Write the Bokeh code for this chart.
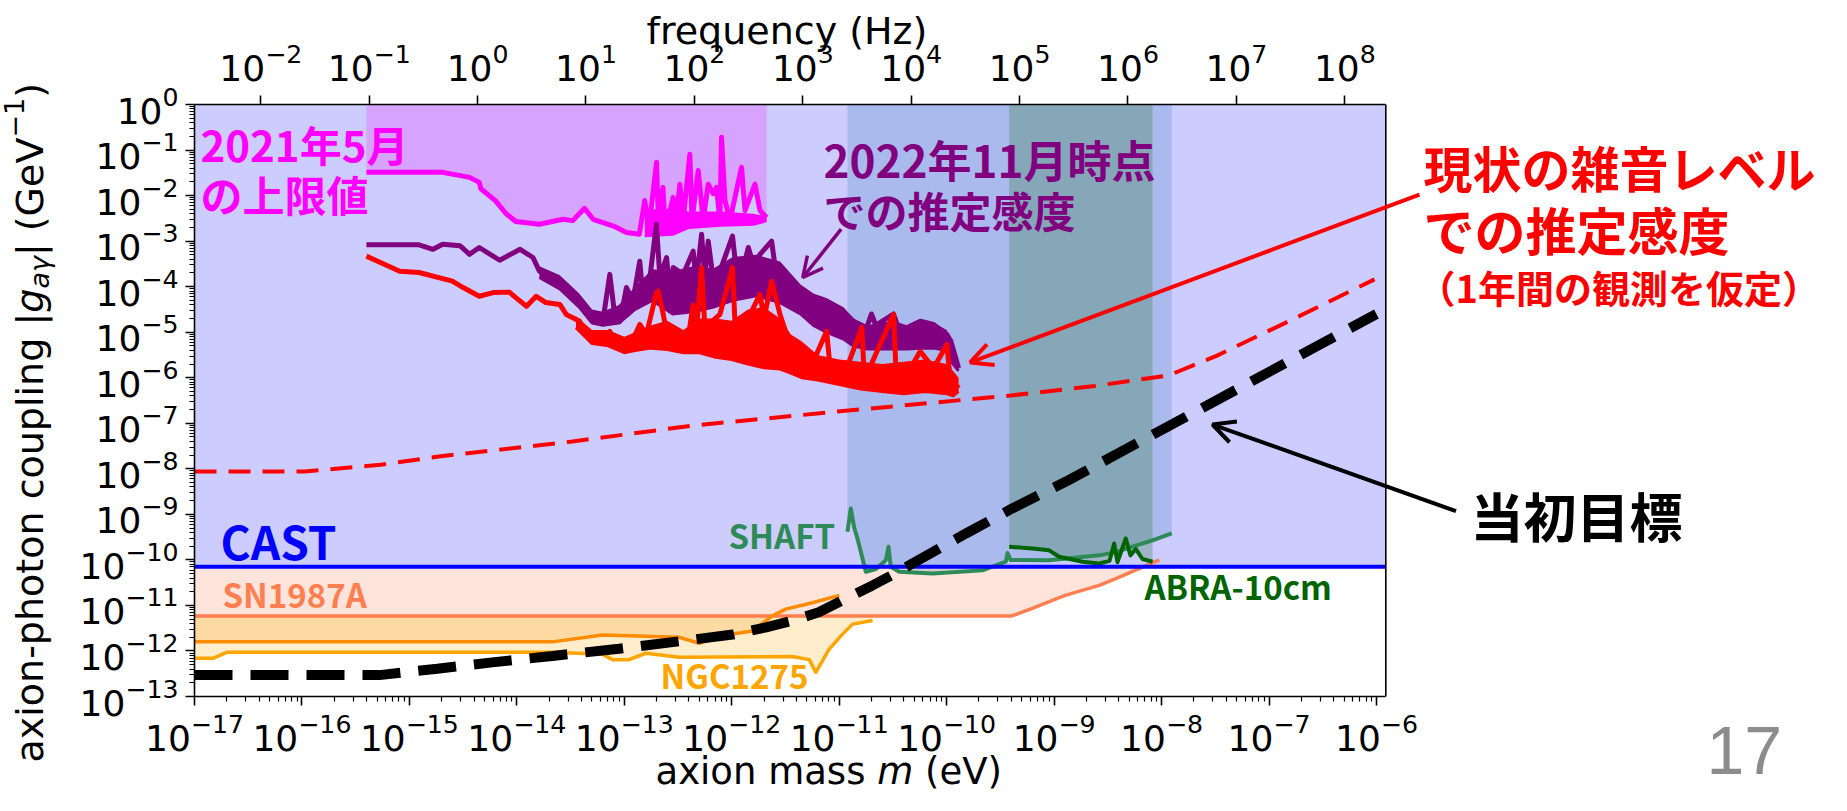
import numpy as np
from bokeh.plotting import figure
from bokeh.models import (Range1d, LogScale, LogAxis, FixedTicker, LogTickFormatter,
                          Label, Arrow, OpenHead)
from bokeh.embed import file_html
from bokeh.resources import INLINE

# ---------------- data (log10 of axion mass [eV] and |g| [GeV^-1]) ----------------
M_TICK_EXP = list(range(-17, -5))      # bottom axis decades
G_TICK_EXP = list(range(-13, 1))       # left axis decades
F_TICK_EXP = list(range(-2, 9))        # top axis decades (Hz)

CAST_LOGG = -10.15

SN1987A_LOGM = [-17.0, -9.395, -9.209, -8.898, -8.58, -8.426, -8.21, -8.02]
SN1987A_LOGG = [-11.23, -11.23, -11.07, -10.78, -10.56, -10.41, -10.19, -10.0]

NGC_UP_LOGM = [-17.0, -13.668, -13.203, -12.489, -12.303, -12.055, -11.807, -11.621, -11.497, -11.249, -11.0]
NGC_UP_LOGG = [-11.80, -11.80, -11.65, -11.70, -11.83, -11.65, -11.56, -11.23, -11.08, -10.94, -10.78]

NGC_LO_LOGM = [-17.0, -16.83, -16.70, -13.668, -13.203, -13.110, -12.955, -12.800, -12.489, -11.435,
               -11.279, -11.218, -11.093, -10.969, -10.876, -10.690]
NGC_LO_LOGG = [-12.16, -12.16, -12.03, -12.03, -12.07, -12.19, -12.19, -12.05, -12.14, -12.12,
               -12.19, -12.47, -11.96, -11.63, -11.41, -11.33]

SHAFT_LOGM = [-10.923, -10.892, -10.86, -10.83, -10.783, -10.752, -10.659, -10.566, -10.541, -10.52, -10.442,
              -10.132, -9.667, -9.449, -9.434, -9.406, -9.046, -8.58, -8.426, -8.27, -8.084, -7.905]
SHAFT_LOGG = [-9.38, -8.87, -9.30, -9.53, -9.97, -10.26, -10.20, -10.01, -9.71, -10.15, -10.26,
              -10.30, -10.23, -10.04, -9.85, -10.00, -10.01, -9.90, -9.83, -9.71, -9.57, -9.42]

ABRA_LOGM = [-9.418, -9.201, -9.046, -8.953, -8.736, -8.58, -8.484, -8.441, -8.41, -8.333, -8.29, -8.24, -8.178, -8.084]
ABRA_LOGG = [-9.71, -9.75, -9.79, -9.93, -10.04, -10.08, -10.02, -9.64, -10.05, -9.53, -9.90, -9.76, -9.98, -10.04]

# DANCE upper limit (May 2021)
D21_LOGM = [-15.40, -14.69, -14.44, -14.35, -14.335, -14.20, -14.10, -14.01, -13.79, -13.57, -13.48, -13.37,
            -13.29, -13.10, -12.98, -12.86, -12.81, -12.77, -12.70, -12.685, -12.64, -12.62, -12.545, -12.52,
            -12.483, -12.452, -12.39, -12.37, -12.312, -12.266, -12.219, -12.172, -12.142, -12.11, -12.095,
            -12.063, -12.017, -11.909, -11.877, -11.784, -11.737, -11.676]
D21_LOGG = [-1.49, -1.49, -1.60, -1.71, -1.85, -2.11, -2.40, -2.57, -2.63, -2.52, -2.55, -2.28,
            -2.52, -2.67, -2.81, -2.85, -2.11, -2.70, -1.27, -2.40, -1.82, -2.78, -2.04, -2.60,
            -1.75, -2.55, -1.09, -2.55, -1.45, -2.55, -1.75, -1.96, -1.82, -2.55, -0.72,
            -2.11, -2.55, -1.38, -2.33, -1.75, -2.33, -2.48]
D21_BAND_LOGM = [-12.81, -12.55, -12.40, -12.10, -11.80, -11.676]
D21_BAND_LO = [-2.88, -2.85, -2.70, -2.65, -2.63, -2.55]
D21_BAND_HI = [-2.30, -2.30, -2.35, -2.35, -2.40, -2.45]

# DANCE estimated sensitivity (Nov 2022)
D22_LOGM = [-15.40, -14.91, -14.78, -14.69, -14.53, -14.44, -14.35, -14.16, -13.97, -13.85, -13.79, -13.66,
            -13.54, -13.415, -13.32, -13.23, -13.20, -13.135, -13.09, -13.04, -12.98, -12.92, -12.856, -12.825,
            -12.762, -12.701, -12.669, -12.607, -12.576, -12.545, -12.452, -12.359, -12.33, -12.281, -12.25,
            -12.219, -12.18, -12.11, -11.993, -11.96, -11.924, -11.846, -11.80, -11.737, -11.629, -11.60,
            -11.551, -11.489, -11.364, -11.24, -11.117, -10.961, -10.868, -10.744, -10.70, -10.66, -10.495,
            -10.45, -10.371, -10.246, -10.122, -9.998, -9.96, -9.889]
D22_LOGG = [-3.08, -3.08, -3.18, -3.07, -3.10, -3.29, -3.14, -3.42, -3.18, -3.36, -3.66, -3.80,
            -3.99, -4.32, -4.69, -4.61, -4.76, -3.73, -4.61, -4.76, -4.02, -4.32, -3.44, -4.26,
            -3.80, -2.63, -3.80, -3.36, -4.10, -3.58, -3.73, -3.22, -3.90, -2.85, -3.80,
            -3.00, -3.70, -3.66, -2.89, -3.60, -3.90, -3.14, -3.50, -3.29, -3.00, -3.50,
            -3.58, -3.88, -4.10, -4.24, -4.32, -4.54, -4.76, -4.90, -4.60, -4.85, -4.60,
            -4.90, -4.90, -4.76, -4.83, -5.05, -5.20, -5.79]
D22_BAND_LOGM = [-13.79, -13.60, -13.42, -13.30, -13.20, -13.05, -12.90, -12.74, -12.55, -12.36, -12.17, -11.99,
                 -11.77, -11.55, -11.36, -11.24, -11.12, -10.96, -10.87, -10.74, -10.50, -10.37, -10.25, -10.12,
                 -10.00, -9.94, -9.889]
D22_BAND_HI = [-3.55, -3.75, -4.15, -4.50, -4.55, -4.40, -4.00, -3.62, -3.66, -3.55, -3.60, -3.35,
               -3.30, -3.45, -3.95, -4.15, -4.25, -4.45, -4.70, -4.85, -4.75, -4.85, -4.75, -4.80,
               -4.95, -5.30, -5.79]
D22_BAND_LO = [-3.80, -4.05, -4.45, -4.80, -4.85, -4.80, -4.50, -4.30, -4.60, -4.55, -4.45, -4.30,
               -4.20, -4.35, -4.60, -4.85, -5.00, -5.15, -5.30, -5.37, -5.37, -5.37, -5.35, -5.35,
               -5.40, -5.70, -5.85]

# DANCE estimated sensitivity at present noise level (1 yr)
NOW_LOGM = [-15.40, -15.09, -14.91, -14.60, -14.50, -14.35, -14.22, -14.07, -14.01, -13.91, -13.82, -13.73,
            -13.60, -13.54, -13.415, -13.353, -13.228, -13.135, -13.074, -13.011, -12.918, -12.856, -12.794,
            -12.701, -12.685, -12.638, -12.607, -12.514, -12.421, -12.359, -12.33, -12.281, -12.25, -12.11,
            -11.993, -11.97, -11.83, -11.737, -11.70, -11.629, -11.551, -11.489, -11.364, -11.24, -11.117,
            -11.09, -10.93, -10.79, -10.77, -10.744, -10.495, -10.47, -10.371, -10.246, -10.122, -9.998,
            -9.97, -9.936, -9.889]
NOW_LOGG = [-3.33, -3.66, -3.69, -3.88, -4.02, -4.21, -4.13, -4.12, -4.24, -4.43, -4.21, -4.35,
            -4.39, -4.61, -4.76, -5.05, -5.12, -4.98, -5.27, -5.35, -5.15, -4.83, -5.05,
            -4.13, -4.10, -4.60, -4.98, -5.20, -5.35, -4.40, -5.00, -3.58, -4.90, -4.61,
            -3.58, -4.80, -4.61, -4.17, -4.70, -3.88, -4.61, -5.05, -5.49, -5.64, -4.98,
            -5.64, -5.79, -4.90, -5.80, -5.93, -4.61, -5.90, -5.93, -5.42, -5.79, -5.27,
            -5.95, -6.08, -6.23]
NOW_BAND_LOGM = [-13.45, -13.30, -13.15, -13.00, -12.90, -12.75, -12.60, -12.45, -12.30, -12.15, -12.00, -11.85,
                 -11.70, -11.55, -11.45, -11.35, -11.20, -11.00, -10.80, -10.60, -10.40, -10.20, -10.00, -9.94,
                 -9.889]
NOW_BAND_HI = [-4.65, -4.95, -4.95, -5.10, -5.00, -4.85, -4.75, -4.95, -4.70, -4.70, -4.75, -4.50,
               -4.45, -4.70, -5.05, -5.20, -5.50, -5.60, -5.65, -5.70, -5.65, -5.60, -5.70, -5.85,
               -6.00]
NOW_BAND_LO = [-4.90, -5.25, -5.30, -5.45, -5.40, -5.35, -5.38, -5.45, -5.45, -5.55, -5.60, -5.70,
               -5.78, -5.81, -5.90, -6.00, -6.05, -6.15, -6.25, -6.30, -6.35, -6.30, -6.35, -6.40,
               -6.30]

# present shot-noise limit (red dashed)
SHOT_LOGM = [-17.0, -15.976, -15.269, -14.729, -13.482, -12.365, -10.916, -9.406, -8.62, -7.935, -7.489, -6.781, -6.018]
SHOT_LOGG = [-8.06, -8.06, -7.91, -7.73, -7.40, -7.05, -6.72, -6.39, -6.18, -5.95, -5.52, -4.72, -3.84]

# original target (black dashed)
TARGET_LOGM = [-17.0, -15.28, -14.74, -14.23, -13.67, -13.05, -12.43, -11.99, -11.68, -11.43, -11.19, -10.94,
               -10.69, -10.44, -10.32, -9.82, -9.39, -8.89, -6.0]
TARGET_LOGG = [-12.53, -12.53, -12.39, -12.25, -12.11, -11.95, -11.77, -11.64, -11.48, -11.33, -11.15, -10.85,
               -10.56, -10.25, -10.08, -9.42, -8.87, -8.28, -4.60]

# ---------------- layout ----------------
# The frame covers the whole canvas; the axes sit at fixed data locations so
# that texts and arrows outside the plotting box are not clipped.
W, H = 1831, 795
BOX_LEFT_PX, BOX_TOP_PX = 194.0, 104.0   # position of the plotting box in the canvas
PX_DEC_M = 107.45          # px per decade of mass
PX_DEC_G = 45.54           # px per decade of coupling
PX_DEC_F = 108.4           # px per decade of frequency (top axis)
M_BOX_LO, M_BOX_HI = -17.0, -5.913
G_BOX_LO, G_BOX_HI = -13.0, 0.0
F_BOX_LO, F_BOX_HI = -2.6116, 8.378

X_LO = M_BOX_LO - BOX_LEFT_PX / PX_DEC_M
X_HI = X_LO + W / PX_DEC_M
Y_HI = G_BOX_HI + BOX_TOP_PX / PX_DEC_G
Y_LO = Y_HI - H / PX_DEC_G
F_LO = F_BOX_LO - BOX_LEFT_PX / PX_DEC_F
F_HI = F_LO + W / PX_DEC_F


def p10(a):
    return 10.0 ** np.asarray(a, dtype=float)


p = figure(width=W, height=H, x_axis_type="log", y_axis_type="log",
           x_range=Range1d(10 ** X_LO, 10 ** X_HI), y_range=Range1d(10 ** Y_LO, 10 ** Y_HI),
           output_backend="svg", toolbar_location=None,
           min_border_left=0, min_border_right=0, min_border_top=0, min_border_bottom=0)
p.min_border = 0
p.outline_line_color = None
p.xgrid.visible = False
p.ygrid.visible = False
p.background_fill_color = "white"
p.border_fill_color = "white"

p.extra_x_ranges = {"freq": Range1d(10 ** F_LO, 10 ** F_HI)}
p.extra_x_scales = {"freq": LogScale()}


def style_axis(ax, exps, minor, bounds, loc, standoff):
    ticks = [10.0 ** k for k in exps]
    minors = [j * 10.0 ** k for k in exps[:-1] for j in range(2, 10)] if minor else []
    ax.ticker = FixedTicker(ticks=ticks, minor_ticks=minors)
    ax.formatter = LogTickFormatter()
    ax.bounds = bounds
    ax.fixed_location = loc
    ax.axis_line_color = "black"
    ax.axis_line_width = 1.6
    ax.major_tick_line_color = "black"
    ax.minor_tick_line_color = "black"
    ax.major_tick_line_width = 1.6
    ax.minor_tick_line_width = 1.2
    ax.major_tick_in = 0
    ax.major_tick_out = 9
    ax.minor_tick_in = 0
    ax.minor_tick_out = 5
    ax.major_label_text_font = "DejaVu Sans"
    ax.major_label_text_font_size = "36px"
    ax.major_label_text_color = "black"
    ax.major_label_standoff = standoff


style_axis(p.xaxis[0], M_TICK_EXP, True, (10 ** M_BOX_LO, 10 ** M_BOX_HI), 10 ** G_BOX_LO, 7)
style_axis(p.yaxis[0], G_TICK_EXP, True, (10 ** G_BOX_LO, 10 ** G_BOX_HI), 10 ** M_BOX_LO, 7)
top = LogAxis(x_range_name="freq")
style_axis(top, F_TICK_EXP, False, (10 ** F_BOX_LO, 10 ** F_BOX_HI), 10 ** G_BOX_HI, 15)
p.add_layout(top, "above")

xe = 10 ** M_BOX_HI


def fill_to_top(lm, lg, color, alpha=1.0):
    x = p10(lm)
    p.varea(x=x, y1=p10(lg), y2=np.ones(len(x)), fill_color=color, fill_alpha=alpha)


# regions (opaque layering, then translucent overlays)
fill_to_top(NGC_LO_LOGM, NGC_LO_LOGG, "#FFEDCC")
fill_to_top(NGC_UP_LOGM, NGC_UP_LOGG, "#FDDBA3")
fill_to_top(SN1987A_LOGM, SN1987A_LOGG, "#FFE4DB")
fill_to_top([M_BOX_LO, M_BOX_HI], [CAST_LOGG, CAST_LOGG], "#CCCCFF")
fill_to_top(D21_LOGM, D21_LOGG, "#FF00FF", 0.2)
fill_to_top(SHAFT_LOGM, SHAFT_LOGG, "#4682B4", 0.25)
fill_to_top(ABRA_LOGM, ABRA_LOGG, "#006400", 0.22)

# limit lines
p.line(p10(SN1987A_LOGM), p10(SN1987A_LOGG), line_color="#FF7F50", line_width=3.5)
p.line(p10(NGC_UP_LOGM), p10(NGC_UP_LOGG), line_color="#FF8C00", line_width=3.5, line_join="round")
p.line(p10(NGC_LO_LOGM), p10(NGC_LO_LOGG), line_color="#FFA500", line_width=3.5, line_join="round")
p.line(p10(SHAFT_LOGM), p10(SHAFT_LOGG), line_color="#2E8B57", line_width=4, line_join="round")
p.line(p10(ABRA_LOGM), p10(ABRA_LOGG), line_color="#006400", line_width=4, line_join="round")
p.line(p10([M_BOX_LO, M_BOX_HI]), p10([CAST_LOGG, CAST_LOGG]), line_color="#0000FF", line_width=4)


def noisy(lm, lg, blm, blo, bhi, color):
    p.varea(x=p10(blm), y1=p10(blo), y2=p10(bhi), fill_color=color)
    p.line(p10(blm), p10(blo), line_color=color, line_width=3, line_join="round")
    p.line(p10(lm), p10(lg), line_color=color, line_width=5, line_join="round")


noisy(D21_LOGM, D21_LOGG, D21_BAND_LOGM, D21_BAND_LO, D21_BAND_HI, "#FF00FF")
noisy(D22_LOGM, D22_LOGG, D22_BAND_LOGM, D22_BAND_LO, D22_BAND_HI, "#800080")
noisy(NOW_LOGM, NOW_LOGG, NOW_BAND_LOGM, NOW_BAND_LO, NOW_BAND_HI, "#FF0000")

p.line(p10(SHOT_LOGM), p10(SHOT_LOGG), line_color="#FF0000", line_width=4, line_dash="22 12")
p.line(p10(TARGET_LOGM), p10(TARGET_LOGG), line_color="black", line_width=10, line_dash="38 18")

# right border of the plotting box
p.segment(x0=[xe], y0=[10 ** G_BOX_LO], x1=[xe], y1=[10 ** G_BOX_HI], line_color="black", line_width=1.6)


# ---------------- texts ----------------
def label(lm, lg, text, color, size, font="Noto Sans CJK JP", style="bold",
          align="left", baseline="middle", angle=0.0, xo=0, yo=0):
    p.add_layout(Label(x=10 ** lm, y=10 ** lg, text=text, text_color=color,
                       text_font=font, text_font_size=f"{size}px", text_font_style=style,
                       text_align=align, text_baseline=baseline, angle=angle, angle_units="deg",
                       x_offset=xo, y_offset=yo))


label(-16.944, -0.856, "2021年5月", "#FF00FF", 42)
label(-16.944, -1.960, "の上限値", "#FF00FF", 42)
label(-11.145, -1.186, "2022年11月時点", "#800080", 44)
label(-11.145, -2.300, "での推定感度", "#800080", 42)
label(-16.758, -9.563, "CAST", "#0000FF", 46)
label(-16.740, -10.738, "SN1987A", "#FF7F50", 33)
label(-12.663, -12.527, "NGC1275", "#FFA500", 33)
label(-12.030, -9.464, "SHAFT", "#2E8B57", 33)
label(-8.159, -10.584, "ABRA-10cm", "#006400", 33)

label(-5.562, -1.361, "現状の雑音レベル", "#FF0000", 49)
label(-5.562, -2.723, "での推定感度", "#FF0000", 51)
label(-5.618, -3.990, "（1年間の観測を仮定）", "#FF0000", 38)
label(-5.125, -9.025, "当初目標", "black", 53)
label(-2.928, -14.185, "17", "#8C8C8C", 68, font="Liberation Sans", style="normal", baseline="middle")

# axis titles
label(-12.793, 1.603, "frequency (Hz)", "black", 38, font="DejaVu Sans", style="normal", baseline="alphabetic")
XL_M, XL_G, XF = -12.710, -14.646, 37
label(XL_M, XL_G, "axion mass", "black", XF, font="DejaVu Sans", style="normal")
label(XL_M, XL_G, "m", "black", XF, font="DejaVu Sans", style="italic", xo=221.8)
label(XL_M, XL_G, "(eV)", "black", XF, font="DejaVu Sans", style="normal", xo=269.6)

YL_M, YL_G, YF = -18.53, -14.449, 38
for txt, st, sz, yo, xo in [("axion-photon coupling |", "normal", YF, 0, 0),
                            ("g", "italic", YF, 449.8, 0),
                            ("aγ", "italic", 27, 473.9, 9),
                            ("| (GeV", "normal", YF, 506.4, 0),
                            ("−1", "normal", 27, 624.9, -16),
                            (")", "normal", YF, 664.7, 0)]:
    label(YL_M, YL_G, txt, "black", sz, font="DejaVu Sans", style=st, baseline="alphabetic",
          angle=90, xo=xo, yo=yo)


# ---------------- arrows ----------------
def arrow(m0, g0, m1, g1, color, width, size):
    p.add_layout(Arrow(end=OpenHead(line_color=color, line_width=width, size=size),
                       x_start=10 ** m0, y_start=10 ** g0, x_end=10 ** m1, y_end=10 ** g1,
                       line_color=color, line_width=width))


arrow(-10.982, -2.738, -11.339, -3.799, "#800080", 3.5, 20)
arrow(-5.600, -1.98, -9.781, -5.665, "#FF0000", 4, 22)
arrow(-5.26, -8.93, -7.526, -7.027, "black", 4, 22)

open("out.html", "w").write(file_html(p, INLINE))
